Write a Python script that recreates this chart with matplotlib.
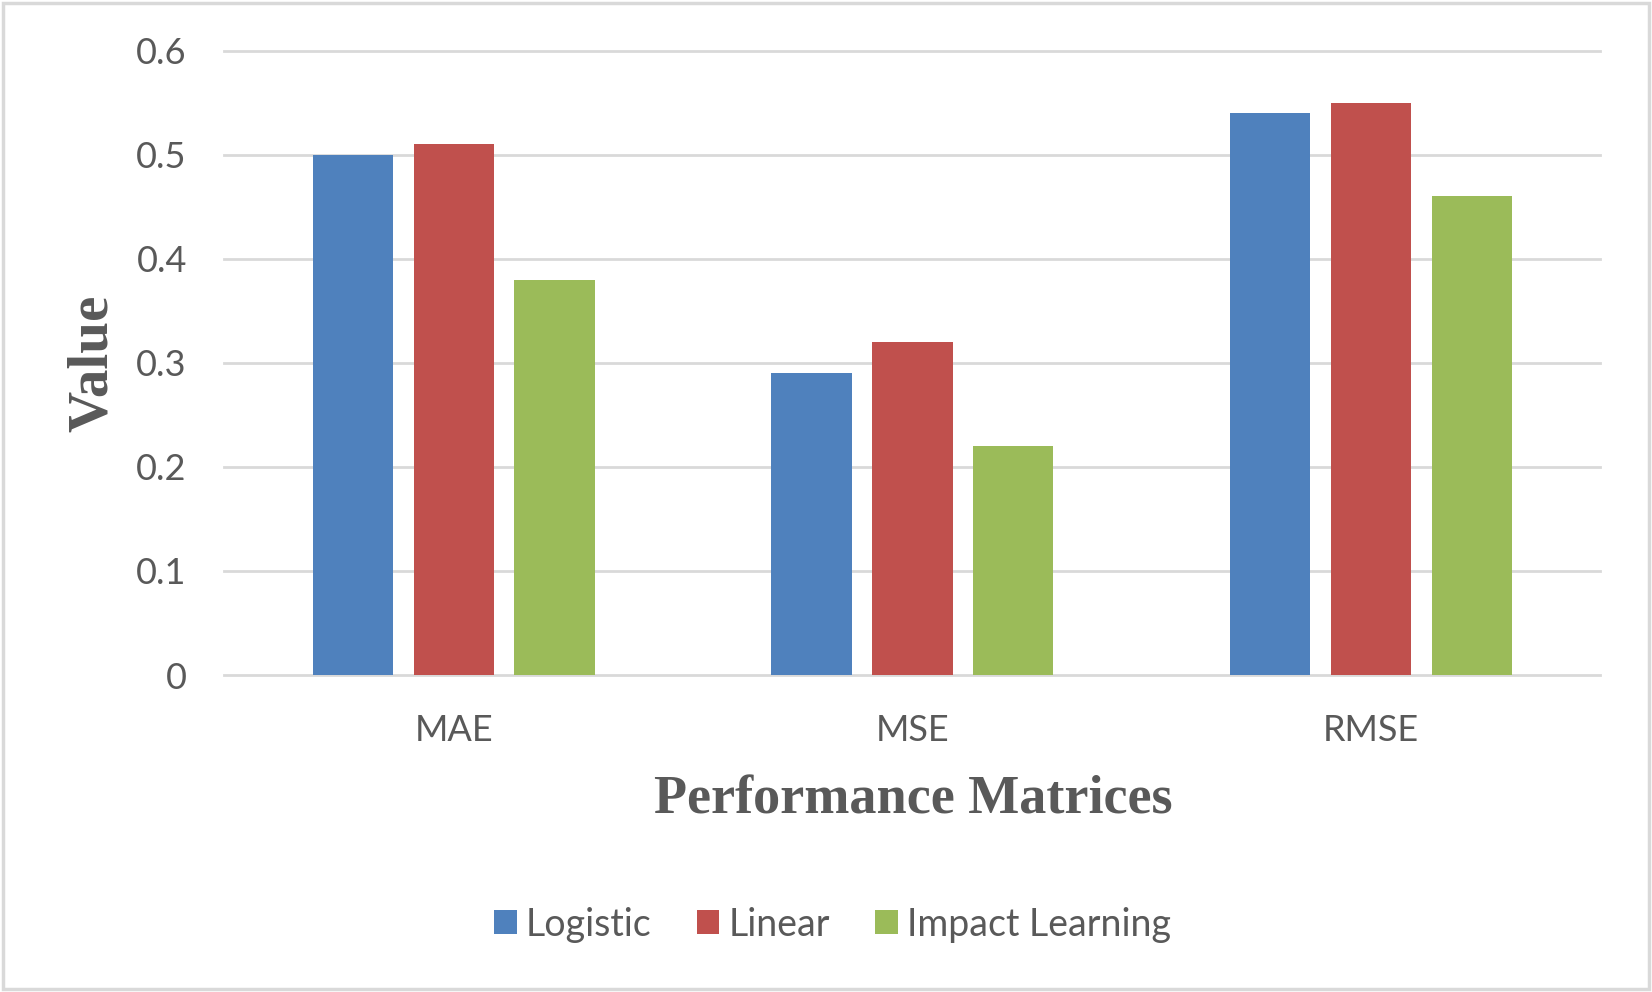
import matplotlib.pyplot as plt
import numpy as np
from matplotlib.patches import Rectangle

# %%
# Values.
metrics = ["MAE", "MSE", "RMSE"]
models = ["Logistic", "Linear", "Impact Learning"]
logistic = [0.50, 0.29, 0.54]
linear = [0.51, 0.32, 0.55]
impact = [0.38, 0.22, 0.46]
yticks = [0, 0.1, 0.2, 0.3, 0.4, 0.5, 0.6]

colors = ["#4F81BD", "#C0504D", "#9BBB59"]
text_color = "#595959"
grid_color = "#D9D9D9"

plt.rcParams["font.family"] = ["Lato", "DejaVu Sans"]

fig = plt.figure(figsize=(16.52, 9.92), dpi=100)
ax = fig.add_axes([0.1358, 0.3195, 0.833, 0.6295])

x = np.arange(len(metrics))
width = 0.175
step = 0.22
for i, (vals, name) in enumerate(zip([logistic, linear, impact], models)):
    ax.bar(x + (i - 1) * step, vals, width=width, color=colors[i],
           label=name, zorder=3)

ax.set_xlim(-0.5, len(metrics) - 0.5)
ax.set_ylim(0, 0.6)
ax.set_yticks(yticks)
ax.set_yticklabels([f"{t:g}" for t in yticks])
ax.set_xticks(x)
ax.set_xticklabels(metrics)
ax.grid(axis="y", color=grid_color, linewidth=2, zorder=0)
ax.set_axisbelow(True)
for s in ax.spines.values():
    s.set_visible(False)
ax.tick_params(axis="both", length=0, labelsize=26, colors=text_color)
ax.tick_params(axis="y", pad=27)
ax.tick_params(axis="x", pad=28)
for g in ax.get_ygridlines():
    g.set_clip_on(False)

fig.text(0.553, 0.193, "Performance Matrices", ha="center", va="center",
         family="Liberation Serif", fontweight="bold", fontsize=39,
         color=text_color)
fig.text(0.056, 0.634, "Value", ha="center", va="center", rotation=90,
         family="Liberation Serif", fontweight="bold", fontsize=41,
         color=text_color)

fig.legend(loc="center", bbox_to_anchor=(0.504, 0.068), ncol=3,
           frameon=False, fontsize=27, labelcolor=text_color,
           handlelength=0.6, handleheight=0.6, handletextpad=0.25,
           columnspacing=1.2)

# light frame around the whole chart
fig.patches.append(Rectangle((0.002, 0.003), 0.996, 0.994,
                             transform=fig.transFigure, fill=False,
                             edgecolor=grid_color, linewidth=2.5))

fig.savefig("out.png", dpi=100)
